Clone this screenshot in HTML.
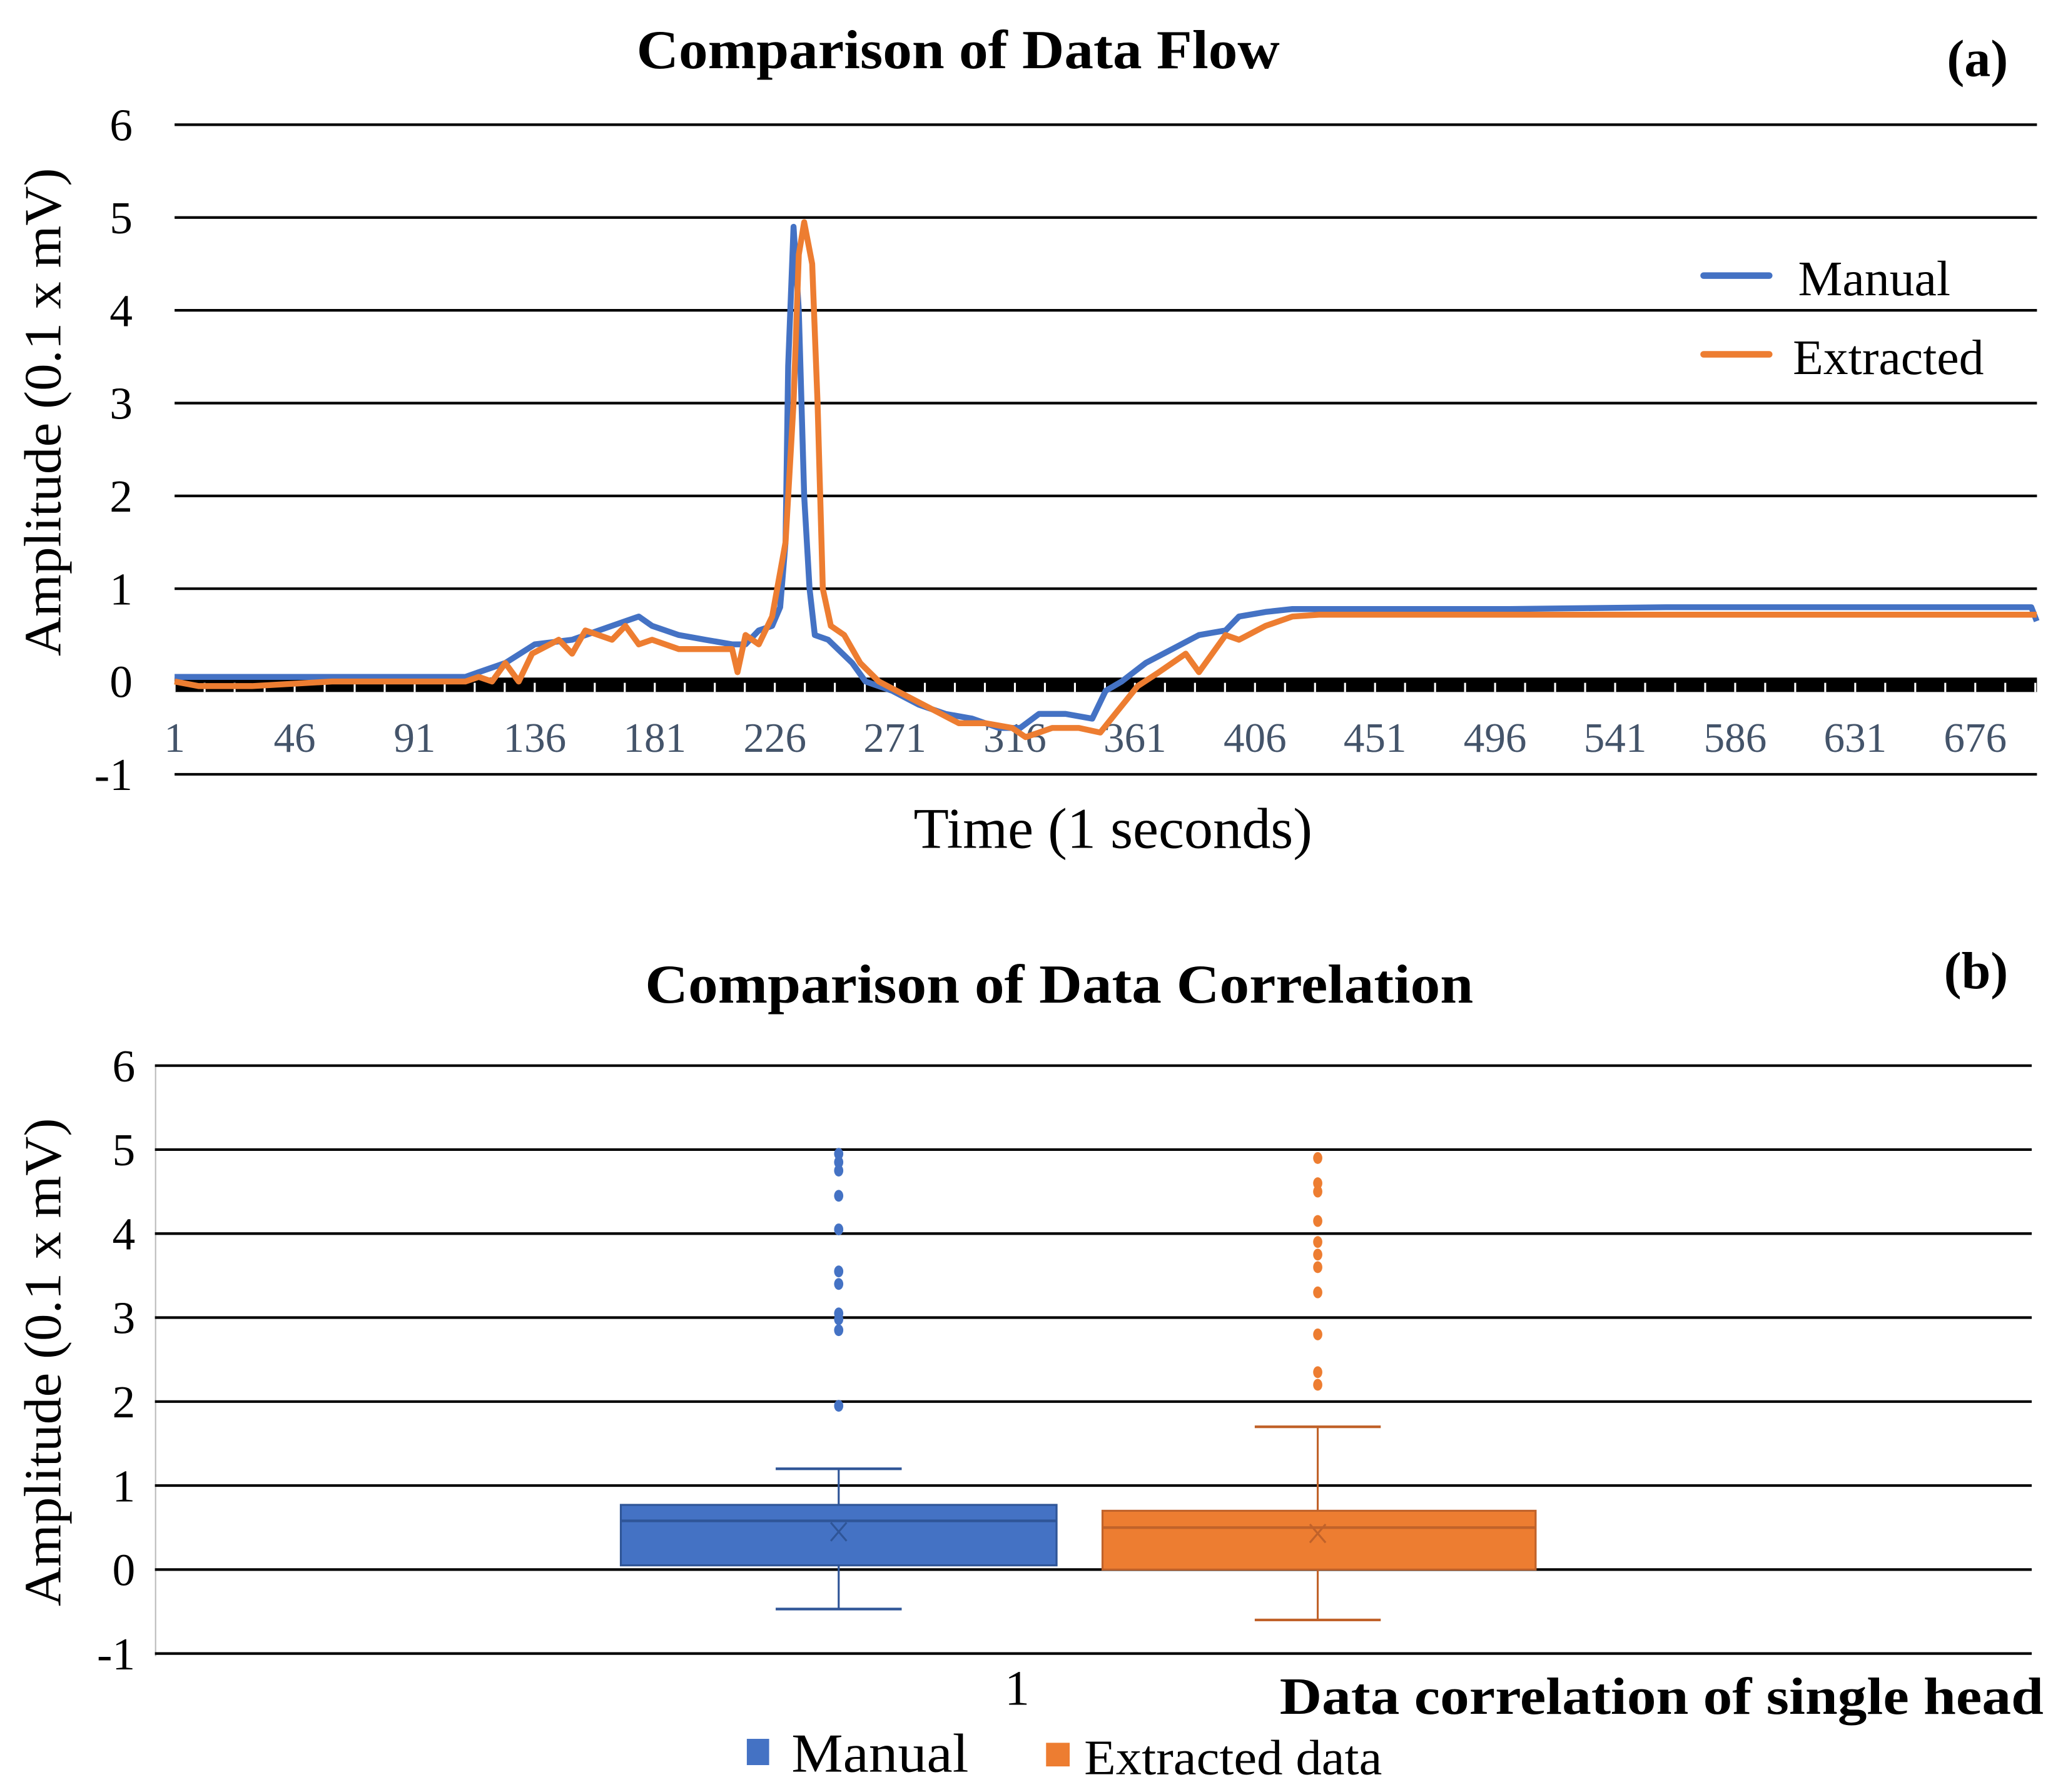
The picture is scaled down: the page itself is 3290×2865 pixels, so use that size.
<!DOCTYPE html>
<html><head><meta charset="utf-8"><style>
html,body{margin:0;padding:0;background:#fff}
svg{display:block}
text{font-family:"Liberation Serif",serif}
</style></head><body>
<svg id="chart" width="3290" height="2865" viewBox="0 0 1568 1365.5" xmlns="http://www.w3.org/2000/svg">
<g id="top"></g>
<g id="bot"></g>
</svg>
<script>
// ---- Chart (a) data ----
const manualT = [1,30,60,110,115,125,136,150,160,170,175,180,185,190,200,210,215,220,225,228,230,231,233,235,237,239,241,246,255,260,270,280,290,300,310,318,325,335,345,350,356,365,375,385,395,400,410,420,500,560,640,697,699];
const manualV = [0.05,0.05,0.05,0.05,0.1,0.2,0.4,0.45,0.55,0.65,0.7,0.6,0.55,0.5,0.45,0.4,0.4,0.55,0.6,0.8,1.5,3.4,4.9,4.0,2.0,1.0,0.5,0.45,0.2,0.0,-0.1,-0.25,-0.35,-0.4,-0.5,-0.5,-0.35,-0.35,-0.4,-0.1,0.0,0.2,0.35,0.5,0.55,0.7,0.75,0.78,0.78,0.8,0.8,0.8,0.65];
const extT = [1,10,30,60,110,115,120,125,130,135,145,150,155,165,170,175,180,190,200,210,212,215,220,225,230,233,235,237,240,242,244,247,252,258,265,275,285,295,305,315,320,330,340,348,355,362,370,380,385,395,400,410,420,430,560,699];
const extV = [0.0,-0.05,-0.05,0.0,0.0,0.05,0.0,0.2,0.0,0.3,0.45,0.3,0.55,0.45,0.6,0.4,0.45,0.35,0.35,0.35,0.1,0.5,0.4,0.7,1.5,3.0,4.6,4.95,4.5,3.0,1.0,0.6,0.5,0.2,0.0,-0.15,-0.3,-0.45,-0.45,-0.5,-0.6,-0.5,-0.5,-0.55,-0.3,-0.05,0.1,0.3,0.1,0.5,0.45,0.6,0.7,0.72,0.72,0.72];
const yTicksA = [-1,0,1,2,3,4,5,6];
const xTickLabels = [1,46,91,136,181,226,271,316,361,406,451,496,541,586,631,676];
// ---- Chart (b) data ----
const boxNames = ["Manual","Extracted data"];
const boxQ1 = [0.05,0.0];
const boxQ3 = [0.77,0.7];
const boxMed = [0.58,0.5];
const boxMean = [0.45,0.43];
const boxLo = [-0.47,-0.6];
const boxHi = [1.2,1.7];
const outManual = [4.95,4.85,4.75,4.45,4.05,3.55,3.4,3.05,2.98,2.85,1.95];
const outExt = [4.9,4.6,4.5,4.15,3.9,3.75,3.6,3.3,2.8,2.35,2.2];
const yTicksB = [-1,0,1,2,3,4,5,6];

const NS="http://www.w3.org/2000/svg";
function mk(parent,tag,attrs,txt){const e=document.createElementNS(NS,tag);for(const k in attrs)e.setAttribute(k,attrs[k]);if(txt!==undefined)e.textContent=txt;parent.appendChild(e);return e;}
const colors=["#4472c4","#ed7d31"];

// ===== Chart (a) =====
const A=document.getElementById('top');
const ax=t=>133+(t-1)*2.0326;
const ay=v=>519.3-v*70.71;
for(const v of yTicksA){
  if(v!==0){const g=mk(A,'line',{x1:133,x2:1552,y1:ay(v),y2:ay(v),stroke:'#000','stroke-width':2});
  
  }
  const t=mk(A,'text',{x:101,y:ay(v)+12,'font-size':35,'text-anchor':'end'},String(v));
  
  
}
const band=mk(A,'rect',{x:133,y:ay(0)-3,width:1419,height:11,fill:'#000'});


for(let t=1;t<=699;t+=45/4){mk(A,'line',{x1:ax(t),x2:ax(t),y1:ay(0)+1,y2:ay(0)+8,stroke:'#fff','stroke-width':1.5});}
for(const l of xTickLabels){
  const t=mk(A,'text',{x:ax(l),y:573,'font-size':32,'text-anchor':'middle',fill:'#44546a'},String(l));
  
  
}
function series(T,V,c,name){
  const d=T.map((t,i)=>(i?'L':'M')+ax(t).toFixed(1)+','+ay(V[i]).toFixed(1)).join('');
  const p=mk(A,'path',{d:d,fill:'none',stroke:c,'stroke-width':4.5,'stroke-linejoin':'round'});
  
  
}
series(manualT,manualV,colors[0],'manual-line');
series(extT,extV,colors[1],'extracted-line');
let e;
e=mk(A,'text',{x:730,y:52,'font-size':42,'font-weight':'bold','text-anchor':'middle',textLength:490,lengthAdjust:'spacingAndGlyphs'},'Comparison  of Data Flow');

e=mk(A,'text',{x:1530,y:58,'font-size':40,'font-weight':'bold','text-anchor':'end'},'(a)');

e=mk(A,'text',{x:848,y:646,'font-size':44,'text-anchor':'middle'},'Time (1 seconds)');

e=mk(A,'text',{x:0,y:0,'font-size':40,'text-anchor':'middle',transform:'translate(46,314) rotate(-90)',textLength:372,lengthAdjust:'spacingAndGlyphs'},'Amplitude (0.1 x mV)');

mk(A,'line',{x1:1298,x2:1348,y1:210,y2:210,stroke:colors[0],'stroke-width':5,'stroke-linecap':'round'});
mk(A,'line',{x1:1298,x2:1348,y1:270,y2:270,stroke:colors[1],'stroke-width':5,'stroke-linecap':'round'});
e=mk(A,'text',{x:1370,y:225,'font-size':38},'Manual');

e=mk(A,'text',{x:1366,y:285,'font-size':38},'Extracted');


// ===== Chart (b) =====
const B=document.getElementById('bot');
const by=v=>1196-v*64;
const centers=[639,1004];
const boxL=[473,840], boxR=[805,1170];
mk(B,'line',{x1:118.5,x2:118.5,y1:812,y2:1262,stroke:'#bbb','stroke-width':1});
for(const v of yTicksB){
  const g=mk(B,'line',{x1:118,x2:1548,y1:by(v),y2:by(v),stroke:'#000','stroke-width':2});
  
  
  const t=mk(B,'text',{x:103,y:by(v)+12,'font-size':35,'text-anchor':'end'},String(v));
  
  
}
const outs=[outManual,outExt];
for(let i=0;i<2;i++){
  const c=colors[i], cx=centers[i], dk=i?'#c0622a':'#2f5597';
  mk(B,'line',{x1:cx,x2:cx,y1:by(boxHi[i]),y2:by(boxQ3[i]),stroke:dk,'stroke-width':1.5});
  mk(B,'line',{x1:cx,x2:cx,y1:by(boxQ1[i]),y2:by(boxLo[i]),stroke:dk,'stroke-width':1.5});
  mk(B,'line',{x1:cx-48,x2:cx+48,y1:by(boxHi[i]),y2:by(boxHi[i]),stroke:dk,'stroke-width':2});
  mk(B,'line',{x1:cx-48,x2:cx+48,y1:by(boxLo[i]),y2:by(boxLo[i]),stroke:dk,'stroke-width':2});
  const r=mk(B,'rect',{x:boxL[i],y:by(boxQ3[i]),width:boxR[i]-boxL[i],height:by(boxQ1[i])-by(boxQ3[i]),fill:c,stroke:dk,'stroke-width':1.5});
  
  
  mk(B,'line',{x1:boxL[i],x2:boxR[i],y1:by(boxMed[i]),y2:by(boxMed[i]),stroke:dk,'stroke-width':2});
  const my=by(boxMean[i]);
  mk(B,'path',{d:`M${cx-6},${my-7}L${cx+6},${my+7}M${cx+6},${my-7}L${cx-6},${my+7}`,stroke:dk,'stroke-width':1.5,fill:'none'});
  for(const o of outs[i]){
    const d=mk(B,'ellipse',{cx:cx,cy:by(o),rx:3.5,ry:4.5,fill:c});
    
    
  }
}
e=mk(B,'text',{x:807,y:764,'font-size':42,'font-weight':'bold','text-anchor':'middle',textLength:631,lengthAdjust:'spacingAndGlyphs'},'Comparison  of Data  Correlation');

e=mk(B,'text',{x:1530,y:753,'font-size':40,'font-weight':'bold','text-anchor':'end'},'(b)');

e=mk(B,'text',{x:775,y:1299,'font-size':38,'text-anchor':'middle'},'1');

e=mk(B,'text',{x:1557,y:1306,'font-size':40,'font-weight':'bold','text-anchor':'end',textLength:582,lengthAdjust:'spacingAndGlyphs'},'Data correlation of single head');

e=mk(B,'text',{x:0,y:0,'font-size':40,'text-anchor':'middle',transform:'translate(46,1038) rotate(-90)',textLength:372,lengthAdjust:'spacingAndGlyphs'},'Amplitude (0.1 x mV)');

mk(B,'rect',{x:569,y:1325,width:17,height:20,fill:colors[0]});
mk(B,'rect',{x:797,y:1328,width:18,height:18,fill:colors[1]});
e=mk(B,'text',{x:603,y:1350,'font-size':42,textLength:135,lengthAdjust:'spacingAndGlyphs'},boxNames[0]);

e=mk(B,'text',{x:826,y:1352,'font-size':38,textLength:227,lengthAdjust:'spacingAndGlyphs'},boxNames[1]);

</script>
</body></html>
